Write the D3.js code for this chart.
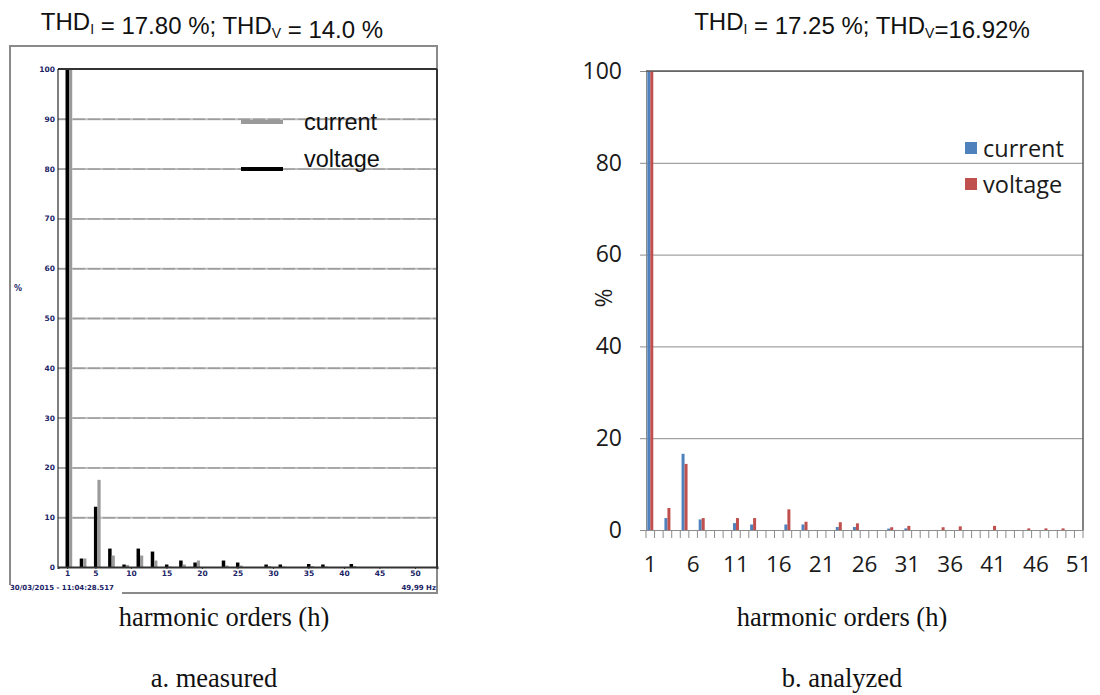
<!DOCTYPE html>
<html>
<head>
<meta charset="utf-8">
<script src="https://cdn.jsdelivr.net/npm/d3@7"></script>
<style>
  body { margin: 0; background: #fff; }
  svg { display: block; }
</style>
</head>
<body>
<div id="chart"></div>
<script>
const width = 1100
const height = 695

// a. measured (analyzer screen) - values in %
const measuredOrders  = [1, 3, 5, 7, 9, 11, 13, 15, 17, 19, 23, 25, 29, 31, 35, 37, 41]
const measuredCurrent = [100, 1.7, 17.5, 2.3, 0.4, 2.3, 1.3, 0.1, 0.5, 1.3, 0.3, 0.3, 0.2, 0.1, 0.2, 0.1, 0.2]
const measuredVoltage = [100, 1.7, 12.1, 3.7, 0.5, 3.7, 3.1, 0.5, 1.3, 0.9, 1.3, 0.9, 0.5, 0.5, 0.6, 0.5, 0.6]
const measuredTicksX = [1, 5, 10, 15, 20, 25, 30, 35, 40, 45, 50]
const measuredTicksY = [0, 10, 20, 30, 40, 50, 60, 70, 80, 90, 100]

// b. analyzed (spreadsheet) - values in %
const analyzedCategories = [1, 2, 3, 4, 5, 6, 7, 8, 9, 10, 11, 12, 13, 14, 15, 16, 17, 18, 19, 20,
  21, 22, 23, 24, 25, 26, 27, 28, 29, 30, 31, 32, 33, 34, 35, 36, 37, 38, 39, 40,
  41, 42, 43, 44, 45, 46, 47, 48, 49, 50, 51]
const analyzedOrders  = [1, 3, 5, 7, 11, 13, 17, 19, 23, 25, 29, 31, 35, 37, 41, 45, 47, 49]
const analyzedCurrent = [100, 2.6, 16.6, 2.3, 1.5, 1.2, 1.2, 1.2, 0.65, 0.65, 0.3, 0.35, 0, 0, 0, 0, 0, 0]
const analyzedVoltage = [100, 4.8, 14.4, 2.6, 2.6, 2.6, 4.5, 1.8, 1.7, 1.45, 0.6, 0.9, 0.6, 0.8, 0.9, 0.35, 0.35, 0.35]
const analyzedTicksX = [1, 6, 11, 16, 21, 26, 31, 36, 41, 46, 51]
const analyzedTicksY = [0, 20, 40, 60, 80, 100]

const series = ["current", "voltage"]

const svg = d3.select("#chart")
  .append("svg")
  .attr("width", width)
  .attr("height", height)

// titles with subscripts
function title(x, parts) {
  const t = svg.append("text")
    .attr("x", x).attr("y", 30)
    .attr("text-anchor", "middle")
    .attr("font-family", "Liberation Sans, Arial, sans-serif")
    .attr("font-size", 24)
    .attr("fill", "#111")
  parts.forEach(p => {
    if (p.sub) {
      t.append("tspan").attr("font-size", 14).attr("dy", 4).text(p.sub)
      t.append("tspan").attr("dy", -4).text("")
    } else {
      t.append("tspan").text(p.text)
    }
  })
}
title(212, [{text: "THD"}, {sub: "I"}, {text: " = 17.80 %; THD"}, {sub: "V"}, {text: " = 14.0 %"}])
title(862, [{text: "THD"}, {sub: "I"}, {text: " = 17.25 %; THD"}, {sub: "V"}, {text: "=16.92%"}])

// captions
const captions = [
  {x: 224, y: 626, t: "harmonic orders (h)"},
  {x: 842, y: 626, t: "harmonic orders (h)"},
  {x: 214, y: 687, t: "a. measured"},
  {x: 842, y: 687, t: "b. analyzed"}
]
svg.selectAll(".caption").data(captions).join("text")
  .attr("class", "caption")
  .attr("x", d => d.x).attr("y", d => d.y)
  .attr("text-anchor", "middle")
  .attr("font-family", "Liberation Serif, Times New Roman, serif")
  .attr("font-size", 26.5)
  .attr("fill", "#111")
  .text(d => d.t)

// ---------------- a. measured ----------------
const L = {left: 58, right: 437, top: 69, bottom: 567}
const xL = d3.scaleLinear().domain([-0.27, 53.1]).range([L.left, L.right])
const yL = d3.scaleLinear().domain([0, 100]).range([L.bottom, L.top])
const gA = svg.append("g").attr("id", "measured")

// outer frame
gA.append("path")
  .attr("d", `M10,585 V46 H437 V593 H122`)
  .attr("fill", "none").attr("stroke", "#8a8a8a").attr("stroke-width", 2)

// grid: solid light gray with a slightly darker dashed trace on top
const gridA = d3.axisLeft(yL).tickValues(measuredTicksY.slice(1, -1)).tickSize(-(L.right - L.left)).tickFormat("")
gA.append("g")
  .attr("transform", `translate(${L.left},0)`)
  .call(gridA)
  .call(g => g.select(".domain").remove())
  .selectAll("line")
  .attr("stroke", "#bdbdbd").attr("stroke-width", 2)
gA.append("g")
  .attr("transform", `translate(${L.left},0)`)
  .call(gridA)
  .call(g => g.select(".domain").remove())
  .selectAll("line")
  .attr("stroke", "#9c9c9c").attr("stroke-width", 1.4).attr("stroke-dasharray", "12,3")

const measuredData = measuredOrders.map((h, i) => ({h: h, current: measuredCurrent[i], voltage: measuredVoltage[i]}))

gA.selectAll(".barV").data(measuredData).join("rect")
  .attr("class", "barV")
  .attr("x", d => xL(d.h) - 1.5).attr("width", 3.5)
  .attr("y", d => yL(d.voltage)).attr("height", d => yL(0) - yL(d.voltage))
  .attr("fill", "#000")
gA.selectAll(".barI").data(measuredData).join("rect")
  .attr("class", "barI")
  .attr("x", d => xL(d.h) + 2).attr("width", 3.2)
  .attr("y", d => yL(d.current)).attr("height", d => yL(0) - yL(d.current))
  .attr("fill", "#9a9a9a")

// plot borders
gA.append("line").attr("x1", L.left).attr("x2", L.right).attr("y1", L.top).attr("y2", L.top)
  .attr("stroke", "#333").attr("stroke-width", 2)
gA.append("line").attr("x1", L.left).attr("x2", L.left).attr("y1", L.top).attr("y2", L.bottom)
  .attr("stroke", "#000").attr("stroke-width", 1)
gA.append("line").attr("x1", L.right).attr("x2", L.right).attr("y1", L.top).attr("y2", L.bottom)
  .attr("stroke", "#333").attr("stroke-width", 2)

// axes
const smallFont = g => g.selectAll("text")
  .attr("font-family", "DejaVu Sans, sans-serif").attr("font-size", 7.5)
  .attr("font-weight", "bold").attr("fill", "#1b2366")

gA.append("g")
  .attr("transform", `translate(${L.left},0)`)
  .call(d3.axisLeft(yL).tickValues(measuredTicksY).tickSize(0).tickPadding(3))
  .call(g => g.select(".domain").remove())
  .call(smallFont)

gA.append("g")
  .attr("transform", `translate(0,${L.bottom})`)
  .call(d3.axisBottom(xL).tickValues(measuredTicksX).tickSize(2).tickPadding(2))
  .call(g => g.select(".domain").attr("stroke", "#333").attr("stroke-width", 2))
  .call(g => g.selectAll(".tick line").attr("stroke", "#333"))
  .call(smallFont)

gA.append("text").attr("x", 14).attr("y", 291).text("%")
  .attr("font-family", "DejaVu Sans, sans-serif").attr("font-size", 8).attr("font-weight", "bold").attr("fill", "#1b2366")
gA.append("text").attr("x", 10).attr("y", 590).text("30/03/2015 - 11:04:28.517")
  .attr("font-family", "DejaVu Sans, sans-serif").attr("font-size", 7).attr("font-weight", "bold").attr("fill", "#1b2366")
gA.append("text").attr("x", 436).attr("y", 590).attr("text-anchor", "end").text("49,99 Hz")
  .attr("font-family", "DejaVu Sans, sans-serif").attr("font-size", 7).attr("font-weight", "bold").attr("fill", "#1b2366")

// legend
const legA = [{s: "current", c: "#9a9a9a", y: 122, ty: 130}, {s: "voltage", c: "#000", y: 169, ty: 167}]
gA.selectAll(".legA").data(legA).join("line")
  .attr("class", "legA")
  .attr("x1", 241).attr("x2", 283).attr("y1", d => d.y).attr("y2", d => d.y)
  .attr("stroke", d => d.c).attr("stroke-width", 4)
gA.selectAll(".legAt").data(legA).join("text")
  .attr("class", "legAt")
  .attr("x", 304).attr("y", d => d.ty)
  .attr("font-family", "Liberation Sans, Arial, sans-serif").attr("font-size", 23.5).attr("fill", "#111")
  .text(d => d.s)

// ---------------- b. analyzed ----------------
const R = {left: 646, right: 1083, top: 71, bottom: 530}
const xR = d3.scaleBand().domain(analyzedCategories).range([R.left, R.right]).paddingInner(0.3).paddingOuter(0.15)
const xSub = d3.scaleBand().domain(series).range([0, xR.bandwidth()])
const yR = d3.scaleLinear().domain([0, 100]).range([R.bottom, R.top])
const colors = d3.scaleOrdinal().domain(series).range(["#4f81bd", "#c0504d"])
const gB = svg.append("g").attr("id", "analyzed")
const excelFont = "Open Sans, Noto Sans, sans-serif"

// gridlines (with small outside stubs)
gB.append("g")
  .attr("transform", `translate(${R.right},0)`)
  .call(d3.axisLeft(yR).tickValues(analyzedTicksY).tickSize(R.right - R.left + 6).tickFormat(""))
  .call(g => g.select(".domain").remove())
  .selectAll("line").attr("stroke", "#8c8c8c").attr("stroke-width", 1)

const analyzedData = analyzedOrders.map((h, i) => ({h: h, current: analyzedCurrent[i], voltage: analyzedVoltage[i]}))

gB.selectAll(".grp").data(analyzedData).join("g")
  .attr("class", "grp")
  .attr("transform", d => `translate(${xR(d.h)},0)`)
  .selectAll("rect")
  .data(d => series.map(s => ({s: s, v: d[s]})))
  .join("rect")
  .attr("x", d => xSub(d.s)).attr("width", xSub.bandwidth())
  .attr("y", d => yR(d.v)).attr("height", d => yR(0) - yR(d.v))
  .attr("fill", d => colors(d.s))

// y axis
gB.append("g")
  .attr("transform", `translate(${R.left},0)`)
  .call(d3.axisLeft(yR).tickValues(analyzedTicksY).tickSize(0).tickPadding(24))
  .call(g => g.select(".domain").attr("stroke", "#8c8c8c"))
  .call(g => g.selectAll("text").attr("font-family", excelFont).attr("font-size", 23).attr("fill", "#1a1a1a"))

// x axis: ticks between categories, labels every 5
const boundaries = analyzedCategories.map(c => xR(c) - xR.step() * xR.paddingInner() / 2).concat([R.right])
gB.selectAll(".catTick").data(boundaries).join("line")
  .attr("class", "catTick")
  .attr("x1", d => d).attr("x2", d => d)
  .attr("y1", R.bottom).attr("y2", R.bottom + 8)
  .attr("stroke", "#8c8c8c")
gB.append("g")
  .attr("transform", `translate(0,${R.bottom})`)
  .call(d3.axisBottom(xR).tickValues(analyzedTicksX).tickSize(0).tickPadding(26))
  .call(g => g.select(".domain").attr("stroke", "#8c8c8c"))
  .call(g => g.selectAll("text").attr("font-family", excelFont).attr("font-size", 22.5).attr("fill", "#1a1a1a"))

// plot area border top/right
gB.append("path")
  .attr("d", `M${R.left},${R.top} H${R.right} V${R.bottom}`)
  .attr("fill", "none").attr("stroke", "#5a5a5a").attr("stroke-width", 1.5)

gB.append("text")
  .attr("transform", "translate(603,298) rotate(-90)")
  .attr("text-anchor", "middle").attr("dominant-baseline", "central")
  .attr("font-family", excelFont).attr("font-size", 23).attr("fill", "#1a1a1a")
  .text("%")

// legend
const legB = series.map((s, i) => ({s: s, y: 148 + i * 36}))
gB.selectAll(".legB").data(legB).join("rect")
  .attr("class", "legB")
  .attr("x", 965).attr("y", d => d.y - 6).attr("width", 12).attr("height", 12)
  .attr("fill", d => colors(d.s))
gB.selectAll(".legBt").data(legB).join("text")
  .attr("class", "legBt")
  .attr("x", 983).attr("y", d => d.y).attr("dominant-baseline", "central")
  .attr("font-family", excelFont).attr("font-size", 23.5).attr("fill", "#1a1a1a")
  .text(d => d.s)
</script>
</body>
</html>
